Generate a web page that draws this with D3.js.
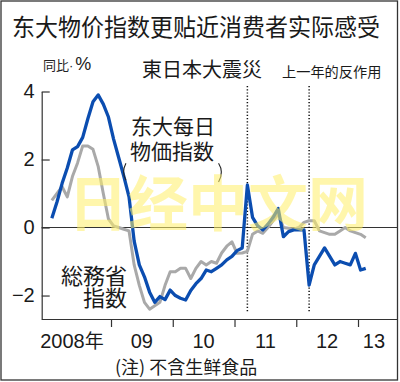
<!DOCTYPE html>
<html>
<head>
<meta charset="utf-8">
<script src="https://cdn.jsdelivr.net/npm/d3@7"></script>
<style>
  body { margin: 0; background: #fff; }
  svg { display: block; }
</style>
</head>
<body>
<div id="chart-area"></div>
<script>
// monthly, Jan 2008 .. Feb 2013, year-on-year %
const years = ["2008年", "09", "10", "11", "12", "13"];

const todaiIndex = [
  0.27, 0.75, 1.3, 1.75, 2.28, 2.38, 2.65, 3.2, 3.7, 3.9, 3.63, 3.25,
  2.6, 2.05, 1.5, 0.9, -0.4, -1.1, -1.45, -1.9, -2.2, -2.03, -2.12, -1.84,
  -2.0, -2.08, -2.13, -1.85, -1.65, -1.5, -1.25, -1.3, -1.2, -1.1, -0.95, -0.85,
  -0.68, -0.6, 1.25, 0.3, 0.05, -0.07, 0.1, 0.3, 0.56, -0.27, -0.12, -0.07,
  -0.07, -0.07, -1.69, -1.1, -0.85, -0.6, -0.85, -1.1, -1.0, -1.05, -1.1, -0.76,
  -1.25, -1.2
];

const somushoIndex = [
  0.8, 1.0, 1.2, 0.9, 1.5, 1.9, 2.4, 2.4, 2.3, 1.8, 1.0, 0.25,
  0.05, 0.0, -0.05, -0.1, -1.1, -1.7, -2.2, -2.4, -2.3, -2.2, -1.7, -1.3,
  -1.3, -1.2, -1.2, -1.5, -1.2, -1.0, -1.1, -1.0, -1.05, -0.75, -0.55, -0.42,
  -0.76, -0.75, -0.7, -0.2, -0.1, -0.17, 0.0, 0.2, 0.4, 0.0, -0.02, -0.05,
  0.0, 0.15, 0.2, 0.2, -0.1, -0.15, -0.2, -0.2, -0.1, 0.0, -0.1, -0.15,
  -0.2, -0.3
];

const yTicks = [-2, 0, 2, 4];
const eventMonths = [38, 50]; // Mar 2011, Mar 2012

const W = 400, H = 382;
const cjk = "'Noto Sans CJK JP', 'Noto Sans CJK SC', sans-serif";
const num = "'Liberation Sans', Arial, sans-serif";

const svg = d3.select("#chart-area")
  .append("svg")
  .attr("width", W)
  .attr("height", H);

const x = d3.scaleLinear().domain([-1.47, 66.8]).range([41.7, 393]);
const y = d3.scaleLinear().domain([-2.69, 4]).range([319, 91.5]);

// frame
svg.append("rect")
  .attr("x", 1).attr("y", 1)
  .attr("width", 396.5).attr("height", 379)
  .attr("fill", "none")
  .attr("stroke", "#333")
  .attr("stroke-width", 1.3);

// title
svg.append("text")
  .attr("x", 12).attr("y", 36)
  .attr("textLength", 368)
  .attr("lengthAdjust", "spacingAndGlyphs")
  .attr("font-family", "'Noto Sans CJK SC', sans-serif")
  .attr("font-size", 24)
  .attr("fill", "#1a1a1a")
  .text("东大物价指数更贴近消费者实际感受");

// unit
const unit = svg.append("text")
  .attr("x", 43).attr("y", 70)
  .attr("fill", "#222");
unit.append("tspan").attr("font-family", cjk).attr("font-size", 13).text("同比");
unit.append("tspan").attr("font-family", num).attr("font-size", 13).text("·");
unit.append("tspan").attr("font-family", num).attr("font-size", 18).attr("dx", 2).text("%");

// y axis
const yAxis = svg.append("g")
  .attr("transform", `translate(${x(-1.47)},0)`)
  .call(d3.axisLeft(y).tickValues(yTicks).tickSize(-8).tickSizeOuter(0).tickPadding(7).tickFormat(d3.format("d")));
yAxis.select(".domain").attr("stroke", "#333").attr("stroke-width", 1.2);
yAxis.selectAll(".tick line").attr("stroke", "#333").attr("stroke-width", 1.2);
yAxis.selectAll(".tick text")
  .attr("font-family", num)
  .attr("font-size", 20)
  .attr("fill", "#1a1a1a");

// zero line
svg.append("line")
  .attr("x1", x(-1.47)).attr("x2", 397)
  .attr("y1", y(0)).attr("y2", y(0))
  .attr("stroke", "#333")
  .attr("stroke-width", 1.1);

// x axis
const xAxis = svg.append("g")
  .attr("transform", `translate(0,${y(-2.69)})`)
  .call(d3.axisBottom(x).tickValues([12, 24, 36, 48, 60]).tickSize(8).tickSizeOuter(0).tickFormat(""));
xAxis.select(".domain").attr("stroke", "#333").attr("stroke-width", 1.2).attr("d", `M${x(-1.47)},0.5H397`);
xAxis.selectAll(".tick line").attr("stroke", "#333").attr("stroke-width", 1.2);

svg.append("g")
  .selectAll("text")
  .data(years)
  .enter()
  .append("text")
  .attr("x", (d, i) => {
    if (i === 0) return x(4.4);
    if (i === years.length - 1) return x(63.1);
    return x(i * 12 + 6);
  })
  .attr("y", 348)
  .attr("text-anchor", "middle")
  .attr("font-family", num)
  .attr("font-size", 20)
  .attr("fill", "#1a1a1a")
  .each(function (d) {
    const t = d3.select(this);
    if (d.indexOf("年") >= 0) {
      t.append("tspan").text(d.replace("年", ""));
      t.append("tspan").attr("font-family", cjk).attr("font-size", 19).text("年");
    } else {
      t.text(d);
    }
  });

// event lines
svg.append("g")
  .selectAll("line")
  .data(eventMonths)
  .enter()
  .append("line")
  .attr("x1", (d) => x(d + 0.5))
  .attr("x2", (d) => x(d + 0.5))
  .attr("y1", 86)
  .attr("y2", 312)
  .attr("stroke", "#111")
  .attr("stroke-width", 1.5)
  .attr("stroke-dasharray", "1.2,2");

svg.append("text")
  .attr("x", 142).attr("y", 77)
  .attr("font-family", cjk)
  .attr("font-size", 20)
  .attr("fill", "#1a1a1a")
  .text("東日本大震災");

svg.append("text")
  .attr("x", 282).attr("y", 77)
  .attr("font-family", cjk)
  .attr("font-size", 14.2)
  .attr("fill", "#1a1a1a")
  .text("上一年的反作用");

// lines
const line = d3.line()
  .x((d, i) => x(i + 0.5))
  .y((d) => y(d));

svg.append("path")
  .datum(somushoIndex)
  .attr("d", line)
  .attr("fill", "none")
  .attr("stroke", "#a9a9a9")
  .attr("stroke-width", 3)
  .attr("stroke-linejoin", "round");

svg.append("path")
  .datum(todaiIndex)
  .attr("d", line)
  .attr("fill", "none")
  .attr("stroke", "#0b4db0")
  .attr("stroke-width", 3.3)
  .attr("stroke-linejoin", "round");

// series labels
const todaiLabel = svg.append("text")
  .attr("font-family", cjk)
  .attr("font-size", 21)
  .attr("fill", "#1a1a1a");
todaiLabel.append("tspan").attr("x", 131).attr("y", 134).text("东大每日");
todaiLabel.append("tspan").attr("x", 130).attr("y", 159).text("物価指数");

svg.append("path")
  .attr("d", `M${x(14.9)},${y(1.89)} Q${x(14.0)},${y(1.63)} ${x(14.9)},${y(1.39)}`)
  .attr("fill", "none").attr("stroke", "#222").attr("stroke-width", 1.1);
svg.append("path")
  .attr("d", `M${x(32.9)},${y(1.89)} Q${x(34.0)},${y(1.63)} ${x(32.9)},${y(1.34)}`)
  .attr("fill", "none").attr("stroke", "#222").attr("stroke-width", 1.1);

const somuLabel = svg.append("text")
  .attr("font-family", cjk)
  .attr("font-size", 22)
  .attr("text-anchor", "end")
  .attr("fill", "#1a1a1a");
somuLabel.append("tspan").attr("x", 127).attr("y", 284).text("総務省");
somuLabel.append("tspan").attr("x", 127).attr("y", 306).text("指数");

// note
svg.append("text")
  .attr("x", 115).attr("y", 374)
  .attr("font-family", cjk)
  .attr("font-size", 18)
  .attr("fill", "#1a1a1a")
  .text("(注) 不含生鲜食品");

// watermark
svg.append("text")
  .attr("x", 218).attr("y", 226)
  .attr("text-anchor", "middle")
  .attr("font-family", "'Noto Sans CJK SC', sans-serif")
  .attr("font-size", 60)
  .attr("font-weight", 700)
  .attr("fill", "#fff06a")
  .attr("opacity", 0.55)
  .text("日经中文网");
</script>
</body>
</html>
